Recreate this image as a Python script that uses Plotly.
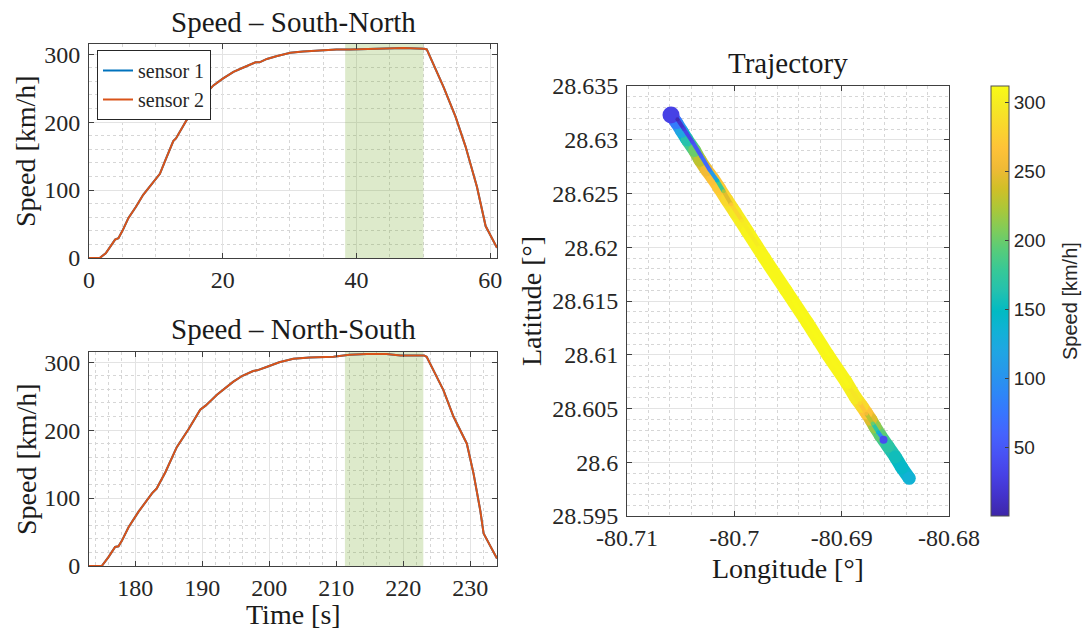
import plotly.graph_objects as go
from plotly.colors import sample_colorscale

# ---------------- data ----------------
t_sn = [0, 1.6, 2.5, 3.9, 4.4, 5.0, 5.9, 7.0, 8.1, 9.2, 10.1, 10.6, 11.5, 12.6, 13.0, 14.6,
        16.6, 18.6, 20.0, 21.6, 23.0, 24.5, 24.9, 25.5, 26.6, 28.0, 30.1, 32.0, 34.6, 37.0,
        39.1, 42.0, 44.1, 47.0, 50.1, 50.5, 53.0, 54.8, 56.3, 58.0, 59.3, 61.0]
v_sn = [0, 0, 7, 27, 29, 40, 59, 75, 93, 107, 118, 124, 146, 172, 176, 203,
        233, 254, 264, 274, 280, 286, 288, 288, 293, 297, 302, 304, 306, 307,
        307, 308, 309, 309, 308, 307, 252, 208, 164, 105, 47, 15]

t_ns = [173.1, 175.0, 176.0, 177.0, 177.5, 178.0, 179.0, 180.5, 182.5, 183.2, 184.5, 186.2,
        188.0, 189.7, 190.5, 192.2, 194.6, 196.0, 197.6, 198.2, 199.6, 201.5, 203.6, 206.0,
        209.6, 212.0, 214.6, 217.5, 219.6, 223.1, 223.5, 226.0, 227.5, 229.5, 230.5, 231.5,
        232.0, 234.0]
v_ns = [0, 0, 13, 28, 29, 37, 57, 80, 107, 114, 138, 175,
        202, 230, 236, 252, 271, 280, 287, 288, 293, 300, 305, 307,
        308, 311, 312, 312, 310, 310, 308, 259, 220, 180, 136, 82,
        48, 11]

band_sn = [38.3, 50.0]
band_ns = [211.3, 223.0]

# trajectory, South-North run (south -> north)
lat_sn = [28.5985, 28.5995, 28.6005, 28.6015, 28.6025, 28.6033, 28.6040, 28.6046, 28.6052,
          28.6060, 28.6075, 28.6100, 28.6130, 28.6160, 28.6190, 28.6215, 28.6232, 28.6244,
          28.6255, 28.6264, 28.6272, 28.6281, 28.6290, 28.6300, 28.6308, 28.6316, 28.6323]
lon_sn = [-80.6837, -80.6844, -80.6850, -80.6857, -80.6864, -80.6869, -80.6873, -80.6877, -80.6881,
          -80.6887, -80.6896, -80.6913, -80.6932, -80.6952, -80.6972, -80.6988, -80.6999, -80.7007,
          -80.7014, -80.7020, -80.7026, -80.7032, -80.7037, -80.7044, -80.7049, -80.7054, -80.7059]
spd_sn = [135, 145, 155, 170, 195, 215, 245, 268, 285,
          298, 306, 308, 309, 309, 308, 305, 298, 285,
          272, 265, 255, 230, 200, 165, 120, 80, 30]

# trajectory, North-South run (north -> south)
lat_ns = [28.6319, 28.6310, 28.6298, 28.6285, 28.6272, 28.6262, 28.6252, 28.6240, 28.6225,
          28.6200, 28.6150, 28.6100, 28.6070, 28.6055, 28.6045, 28.6036, 28.6028, 28.6021]
lon_ns = [-80.7053, -80.7047, -80.7039, -80.7031, -80.7023, -80.7016, -80.7010, -80.7003, -80.6993,
          -80.6977, -80.6945, -80.6912, -80.6893, -80.6883, -80.6877, -80.6871, -80.6866, -80.6861]
spd_ns = [5, 25, 40, 55, 75, 140, 220, 270, 295,
          305, 310, 310, 305, 285, 255, 200, 140, 40]

speed_range = [0, 315]
x3_tickvals = [-80.71, -80.70, -80.69, -80.68]
x3_ticktext = ["-80.71", "-80.7", "-80.69", "-80.68"]
y3_tickvals = [28.595, 28.600, 28.605, 28.610, 28.615, 28.620, 28.625, 28.630, 28.635]
y3_ticktext = ["28.595", "28.6", "28.605", "28.61", "28.615", "28.62", "28.625", "28.63", "28.635"]
cb_tickvals = [50, 100, 150, 200, 250, 300]
c_min, c_max = 0, 312

# ---------------- style ----------------
W, H = 1083, 632
SERIF = "Liberation Serif"
SANS = "Liberation Sans"
TXT = "#262626"
C1 = "#0072BD"
C2 = "#D95319"

parula_rows = [
    (0.2422, 0.1504, 0.6603), (0.2647, 0.1978, 0.7952), (0.2783, 0.2559, 0.8991),
    (0.2810, 0.3228, 0.9579), (0.2699, 0.3892, 0.9906), (0.2206, 0.4603, 0.9973),
    (0.1786, 0.5289, 0.9682), (0.1540, 0.5902, 0.9218), (0.1248, 0.6459, 0.8883),
    (0.0689, 0.6948, 0.8394), (0.0067, 0.7312, 0.7660), (0.1408, 0.7584, 0.6842),
    (0.2161, 0.7843, 0.5923), (0.3406, 0.8008, 0.4789), (0.5044, 0.7993, 0.3480),
    (0.6720, 0.7793, 0.2227), (0.8203, 0.7498, 0.1535), (0.9393, 0.7288, 0.2100),
    (0.9970, 0.7659, 0.2199), (0.9786, 0.8386, 0.1766), (0.9597, 0.9135, 0.1423),
    (0.9769, 0.9839, 0.0805)]
n = len(parula_rows)
parula = [[i / (n - 1), "rgb(%d,%d,%d)" % tuple(round(c * 255) for c in r)]
          for i, r in enumerate(parula_rows)]


def px_x(p):
    return p / W


def px_y(p):
    return 1 - p / H


fig = go.Figure()

# green bands (drawn first: above grid, below curves)
for band, xa, ya in [(band_sn, "x", "y"), (band_ns, "x2", "y2")]:
    fig.add_trace(go.Scatter(
        x=[band[0], band[1], band[1], band[0], band[0]],
        y=[speed_range[0], speed_range[0], speed_range[1], speed_range[1], speed_range[0]],
        mode="lines", fill="toself", fillcolor="rgba(119,172,48,0.25)",
        line=dict(width=0), showlegend=False, hoverinfo="skip", xaxis=xa, yaxis=ya))

# speed plots
fig.add_trace(go.Scatter(x=t_sn, y=v_sn, mode="lines", name="sensor 1",
                         line=dict(color=C1, width=2), xaxis="x", yaxis="y"))
fig.add_trace(go.Scatter(x=t_sn, y=v_sn, mode="lines", name="sensor 2",
                         line=dict(color=C2, width=2), xaxis="x", yaxis="y"))
fig.add_trace(go.Scatter(x=t_ns, y=v_ns, mode="lines", name="sensor 1", showlegend=False,
                         line=dict(color=C1, width=2), xaxis="x2", yaxis="y2"))
fig.add_trace(go.Scatter(x=t_ns, y=v_ns, mode="lines", name="sensor 2", showlegend=False,
                         line=dict(color=C2, width=2), xaxis="x2", yaxis="y2"))


def seg_color(a, b):
    f = ((a + b) / 2 - c_min) / (c_max - c_min)
    return sample_colorscale(parula, [min(max(f, 0), 1)])[0]


def add_track(lat, lon, spd, width, end_size, colorbar):
    for i in range(len(lat) - 1):
        fig.add_trace(go.Scatter(x=[lon[i], lon[i + 1]], y=[lat[i], lat[i + 1]], mode="lines",
                                 line=dict(color=seg_color(spd[i], spd[i + 1]), width=width),
                                 showlegend=False, hoverinfo="skip", xaxis="x3", yaxis="y3"))
    sizes = [width] * (len(lat) - 1) + [end_size]
    mk = dict(color=spd, colorscale=parula, cmin=c_min, cmax=c_max, size=sizes,
              line=dict(width=0), opacity=1)
    if colorbar:
        mk["showscale"] = True
        mk["colorbar"] = dict(
            x=px_x(991), xanchor="left", xpad=0, y=px_y(516), yanchor="bottom",
            len=(516 - 86) / H, lenmode="fraction", thickness=18, thicknessmode="pixels",
            outlinecolor="#505050", outlinewidth=1, ticks="inside", ticklen=4,
            tickcolor="#404040", tickvals=cb_tickvals,
            tickfont=dict(family=SANS, size=19, color=TXT), ypad=0)
    else:
        mk["showscale"] = False
    fig.add_trace(go.Scatter(x=lon, y=lat, mode="markers", marker=mk, showlegend=False,
                             xaxis="x3", yaxis="y3"))


add_track(lat_sn, lon_sn, spd_sn, 13, 17, True)
add_track(lat_ns, lon_ns, spd_ns, 4, 8, False)

axis_common = dict(showline=True, linecolor="#404040", linewidth=1, mirror="ticks",
                   ticks="inside", ticklen=5, tickcolor="#404040", showgrid=True,
                   gridcolor="#e3e3e3", gridwidth=1, zeroline=False,
                   tickfont=dict(family=SERIF, size=24, color=TXT))
minor_common = dict(showgrid=True, griddash="dot", gridcolor="#d6d6d6", gridwidth=1, ticks="")
xs = dict(ticklabelstandoff=0)
ys = dict(ticklabelstandoff=3)

fig.update_layout(
    width=W, height=H, autosize=False,
    margin=dict(l=0, r=0, t=0, b=0, autoexpand=False),
    paper_bgcolor="white", plot_bgcolor="white",
    xaxis=dict(domain=[px_x(89), px_x(497)], range=[0, 61], dtick=20, tick0=0,
               minor=dict(dtick=5, **minor_common), anchor="y", **axis_common, **xs),
    yaxis=dict(domain=[px_y(258), px_y(44)], range=speed_range, dtick=100, tick0=0,
               minor=dict(dtick=20, **minor_common), anchor="x", **axis_common, **ys),
    xaxis2=dict(domain=[px_x(89), px_x(497)], range=[173.1, 234], dtick=10, tick0=180,
                minor=dict(dtick=2, **minor_common), anchor="y2", **axis_common, **xs),
    yaxis2=dict(domain=[px_y(566), px_y(352)], range=speed_range, dtick=100, tick0=0,
                minor=dict(dtick=20, **minor_common), anchor="x2", **axis_common, **ys),
    xaxis3=dict(domain=[px_x(627), px_x(949)], range=[-80.71, -80.68],
                tickvals=x3_tickvals, ticktext=x3_ticktext,
                minor=dict(dtick=0.002, tick0=-80.71, **minor_common), anchor="y3",
                **axis_common, **xs),
    yaxis3=dict(domain=[px_y(516), px_y(86)], range=[28.595, 28.635],
                tickvals=y3_tickvals, ticktext=y3_ticktext,
                minor=dict(dtick=0.001, tick0=28.595, **minor_common), anchor="x3",
                **axis_common, **ys),
    legend=dict(x=px_x(97), y=px_y(50), xanchor="left", yanchor="top",
                bgcolor="white", bordercolor="#262626", borderwidth=1,
                font=dict(family=SERIF, size=20, color=TXT), itemwidth=30,
                tracegroupgap=0),
    showlegend=True,
)

ann = [
    ("Speed – South-North", 293, 22, 0, SERIF, 29),
    ("Speed – North-South", 293, 329, 0, SERIF, 29),
    ("Trajectory", 788, 63, 0, SERIF, 29),
    ("Speed [km/h]", 26, 151, -90, SERIF, 28),
    ("Speed [km/h]", 26, 459, -90, SERIF, 28),
    ("Time [s]", 293, 614, 0, SERIF, 28),
    ("Longitude [°]", 788, 568, 0, SERIF, 28),
    ("Latitude [°]", 531, 301, -90, SERIF, 28),
    ("Speed [km/h]", 1070, 301, -90, SANS, 20),
]
for text, x, y, ang, fam, size in ann:
    fig.add_annotation(text=text, x=px_x(x), y=px_y(y), xref="paper", yref="paper",
                       xanchor="center", yanchor="middle", showarrow=False, textangle=ang,
                       font=dict(family=fam, size=size, color="#1a1a1a" if fam == SERIF else TXT))

fig.write_html("out.html", config={"displayModeBar": False},
               post_script="document.body.style.margin='0px';document.body.style.overflow='hidden';")
